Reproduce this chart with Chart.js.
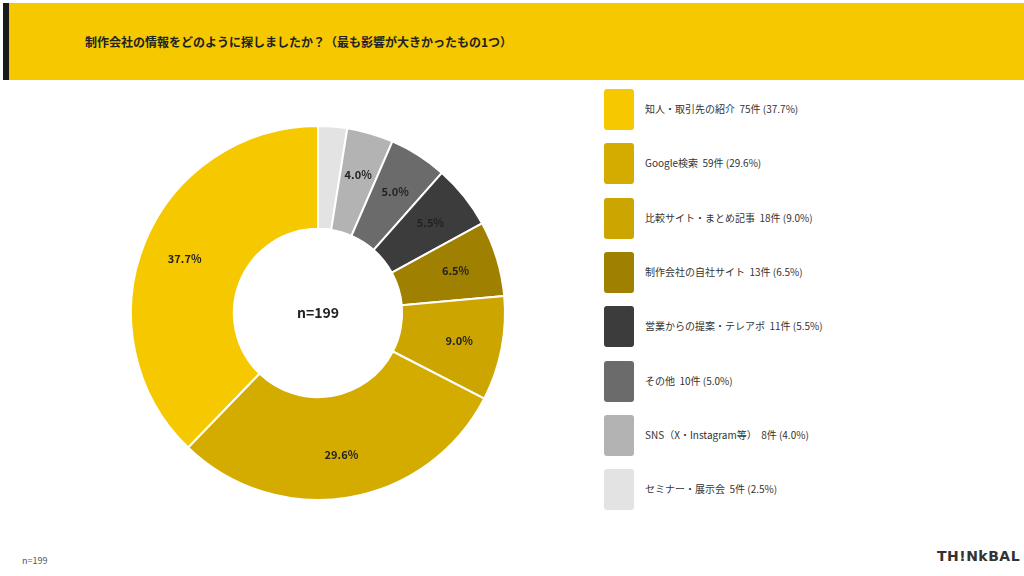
<!DOCTYPE html>
<html><head><meta charset="utf-8">
<script src="https://cdn.jsdelivr.net/npm/chart.js@4"></script>
<style>
body{margin:0;width:1024px;height:576px;background:#fff;font-family:"Noto Sans CJK JP","Noto Sans",sans-serif;position:relative;overflow:hidden}
#hdr{position:absolute;left:3px;top:3px;width:1021px;height:77px;background:#F5C800}
#bar{position:absolute;left:3px;top:3px;width:6px;height:77px;background:#1a1a1a}
#title{position:absolute;left:85px;top:33px;font-size:12px;font-weight:bold;color:#222}
#cw{position:absolute;left:118px;top:113px;width:400px;height:400px}
.li{position:absolute;left:604px;height:41px}
.li .b{position:absolute;left:0;top:0;width:30px;height:41px;border-radius:3px}
.li .t{position:absolute;left:41px;top:12px;font-size:10px;color:#333;white-space:pre}
#foot{position:absolute;left:22px;top:554px;font-size:9px;color:#555}
#logo{position:absolute;left:937px;top:548px;font-size:14px;font-weight:bold;color:#333;font-family:"DejaVu Sans",sans-serif;letter-spacing:0.5px}
</style></head><body>
<div id="hdr"></div><div id="bar"></div>
<div id="title">制作会社の情報をどのように探しましたか？（最も影響が大きかったもの1つ）</div>
<div id="cw"><canvas id="c" width="400" height="400" style="width:400px;height:400px"></canvas></div>
<div id="legend"></div>
<div id="foot">n=199</div>
<div id="logo">TH!NkBAL</div>
<script>
const categories=["知人・取引先の紹介","Google検索","比較サイト・まとめ記事","制作会社の自社サイト","営業からの提案・テレアポ","その他","SNS（X・Instagram等）","セミナー・展示会"];
const counts=[75,59,18,13,11,10,8,5];
const percents=[37.7,29.6,9.0,6.5,5.5,5.0,4.0,2.5];
const colors=["#F5C800","#D4AC00","#CCA500","#A08000","#3C3C3C","#6B6B6B","#B3B3B3","#E3E3E3"];
const lg=document.getElementById('legend');
categories.forEach((c,i)=>{
  const d=document.createElement('div');d.className='li';d.style.top=(89+i*54.3)+'px';
  d.innerHTML=`<div class="b" style="background:${colors[i]}"></div><div class="t">${c}  ${counts[i]}件 (${percents[i].toFixed(1)}%)</div>`;
  lg.appendChild(d);
});
const rev=a=>a.slice().reverse();
const labelsPlugin={id:'lbl',afterDatasetsDraw(ch){
  const ctx=ch.ctx;const meta=ch.getDatasetMeta(0);
  ctx.save();ctx.font='bold 11px "Noto Sans CJK JP","Noto Sans"';ctx.fillStyle='#222';ctx.textAlign='center';ctx.textBaseline='middle';
  meta.data.forEach((a,i)=>{
    const v=ch.data.datasets[0].data[i];
    if(v<3)return;
    const ang=(a.startAngle+a.endAngle)/2;const r=a.innerRadius+(a.outerRadius-a.innerRadius)*0.58;
    ctx.fillText(v.toFixed(1)+'%',a.x+Math.cos(ang)*r,a.y+Math.sin(ang)*r);
  });
  ctx.font='bold 14px "Noto Sans CJK JP","Noto Sans"';ctx.fillText('n=199',meta.data[0].x,meta.data[0].y);
  ctx.restore();}};
new Chart(document.getElementById('c'),{type:'doughnut',
 data:{labels:rev(categories),datasets:[{data:rev(percents),backgroundColor:rev(colors),borderColor:'#fff',borderWidth:2}]},
 options:{responsive:false,maintainAspectRatio:false,animation:false,cutout:'45%',layout:{padding:12},
  plugins:{legend:{display:false},tooltip:{enabled:false}}},
 plugins:[labelsPlugin]});
</script>
</body></html>
